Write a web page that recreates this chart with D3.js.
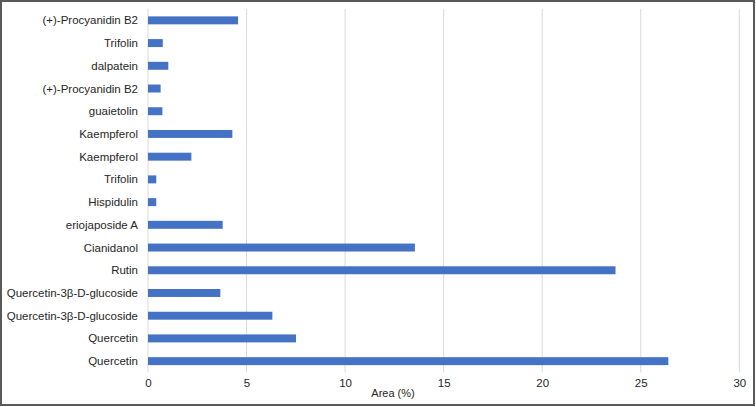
<!DOCTYPE html>
<html><head><meta charset="utf-8">
<script src="https://cdn.jsdelivr.net/npm/d3@7"></script>
<style>body{margin:0;background:#fff}svg{display:block}text{font-family:"Liberation Sans",Arial,sans-serif}</style>
</head><body>
<svg id="c" width="756" height="407"></svg>
<script>
const categories = ["(+)-Procyanidin B2","Trifolin","dalpatein","(+)-Procyanidin B2","guaietolin","Kaempferol","Kaempferol","Trifolin","Hispidulin","eriojaposide A","Cianidanol","Rutin","Quercetin-3β-D-glucoside","Quercetin-3β-D-glucoside","Quercetin","Quercetin"];
const values = [4.57,0.75,1.03,0.64,0.73,4.28,2.2,0.42,0.42,3.79,13.54,23.72,3.67,6.31,7.51,26.4];
const xTicks = [0,5,10,15,20,25,30];
const xTitle = "Area (%)";

const svg = d3.select("#c");
const W = 756, H = 407;
svg.append("rect").attr("x",1).attr("y",1).attr("width",W-3).attr("height",H-3)
  .attr("fill","#fff").attr("stroke","#595959").attr("stroke-width",2);

const x = d3.scaleLinear().domain([0,30]).range([148,739.3]);
const y = d3.scaleBand().domain(categories.map((d,i)=>i)).range([9,372.5]).paddingInner(0.65).paddingOuter(0.325);

const g = svg.append("g");
// gridlines
g.selectAll("line.grid").data(xTicks).join("line")
  .attr("x1",d=>x(d)).attr("x2",d=>x(d)).attr("y1",9).attr("y2",372.5)
  .attr("stroke","#d9d9d9").attr("stroke-width",1);

// bars
g.selectAll("rect.bar").data(values).join("rect")
  .attr("x",x(0)).attr("y",(d,i)=>y(i)).attr("width",d=>x(d)-x(0)).attr("height",y.bandwidth())
  .attr("fill","#4472C4");

// y labels
g.selectAll("text.yl").data(categories).join("text")
  .attr("x",138).attr("y",(d,i)=>y(i)+y.bandwidth()/2).attr("dy","0.35em")
  .attr("text-anchor","end").attr("font-size",11.5).attr("fill","#262626").text(d=>d);

// x axis labels
const ax = d3.axisBottom(x).tickValues(xTicks).tickSize(0).tickPadding(0);
const axg = svg.append("g").attr("transform","translate(0,378)").call(ax);
axg.select(".domain").remove();
axg.selectAll("text").attr("font-size",11.5).attr("fill","#262626").attr("dy","0.75em")
  .style("font-family",'"Liberation Sans",Arial,sans-serif');

svg.append("text").attr("x",393).attr("y",396.5).attr("text-anchor","middle")
  .attr("font-size",11).attr("fill","#262626").text(xTitle);
</script>
</body></html>
